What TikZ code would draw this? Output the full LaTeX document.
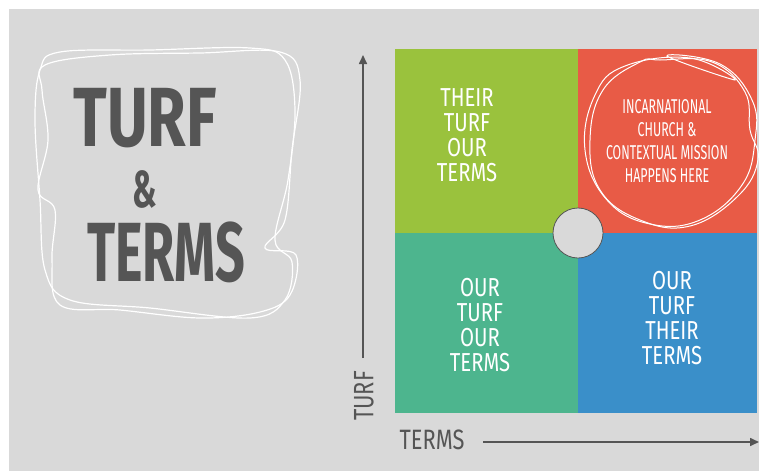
\documentclass[tikz,border=0pt]{standalone}
\usepackage{fontspec}
\usepackage{graphicx}
\usetikzlibrary{arrows.meta}
\newfontfamily\titlefont[FakeStretch=0.62]{Fira Sans}
\newfontfamily\handfont[FakeStretch=0.78]{Fira Sans}
\newfontfamily\notefont[FakeStretch=0.62]{Fira Sans}
\definecolor{bggray}{HTML}{D9D9D9}
\definecolor{inkgray}{HTML}{555555}
\definecolor{turfgreen}{HTML}{9AC23D}
\definecolor{turfred}{HTML}{E85B46}
\definecolor{turfteal}{HTML}{4DB58E}
\definecolor{turfblue}{HTML}{3A8FC9}
\begin{document}
\begin{tikzpicture}[x = 1pt, y = -1pt]
	% Page and background
	\useasboundingbox (0, 0) rectangle (759, 471);
	\fill[white] (0, 0) rectangle (759, 471);
	\fill[bggray] (9, 9) rectangle (759, 471);

	% Styles for the quadrant texts and the sketchy loops
	\tikzset{quad text/.style = {white, align = center, inner sep = 0pt, font = \handfont\fontsize{26}{25}\selectfont},
		note text/.style = {white, align = center, inner sep = 0pt, font = \notefont\fontsize{20}{23}\selectfont},
		sketch/.style = {white, line width = 1.2pt},
		axis arrow/.style = {-{Triangle[length = 9pt, width = 8pt]}, inkgray, line width = 1.6pt}}

	% Define the corners of the grid
	\coordinate (NW) at (395, 49);
	\coordinate (M) at (578, 233);
	\coordinate (SE) at (757, 413);

	% Draw the four quadrants
	\fill[turfgreen] (NW) rectangle (M);
	\fill[turfred] (M |- NW) rectangle (SE |- M);
	\fill[turfteal] (NW |- M) rectangle (M |- SE);
	\fill[turfblue] (M) rectangle (SE);

	% Quadrant labels
	\node[quad text] (their turf) at (467, 135) {THEIR\\TURF\\OUR\\TERMS};
	\node[quad text] (our turf) at (480, 325) {OUR\\TURF\\OUR\\TERMS};
	\node[quad text] (our turf their) at (672, 318) {OUR\\TURF\\THEIR\\TERMS};
	\node[note text] (mission) at (667, 141) {INCARNATIONAL\\CHURCH \&\\CONTEXTUAL MISSION\\HAPPENS HERE};

	% Sketchy circle round the mission text
	\draw[sketch, line width = 1pt] plot[smooth cycle, tension = 0.7] coordinates {(667, 56) (720, 64) (752, 100) (755, 140) (742, 185) (700, 220) (650, 224) (607, 200) (585, 150) (595, 95) (625, 66) (690, 58) (735, 80)};
	\draw[sketch, line width = 1pt] plot[smooth cycle, tension = 0.7] coordinates {(660, 60) (712, 62) (745, 92) (750, 130) (758, 160) (738, 196) (690, 226) (640, 220) (600, 190) (590, 140) (603, 90) (640, 62)};

	% Centre circle
	\node[circle, draw = inkgray, fill = bggray, minimum size = 50pt, inner sep = 0pt, line width = 0.8pt] (hub) at (M) {};

	% Axes
	\coordinate (turf start) at (363, 358);
	\coordinate (turf end) at (363, 55);
	\coordinate (terms start) at (483, 442);
	\coordinate (terms end) at (759, 442);
	\draw[axis arrow] (turf start) -- (turf end);
	\draw[axis arrow] (terms start) -- (terms end);
	\node[inkgray, rotate = 90, font = \handfont\fontsize{28}{28}\selectfont] (turf label) at (364, 396) {TURF};
	\node[inkgray, font = \handfont\fontsize{28}{28}\selectfont] (terms label) at (432, 440) {TERMS};

	% Title with its sketchy frame
	\node[inkgray, inner sep = 0pt, align = center, font = \titlefont\bfseries\fontsize{84}{61}\selectfont] (title) at (145, 186)
		{\scalebox{1.2}[1]{TURF}\\{\fontsize{52}{61}\selectfont\&}\\[13pt]\hspace*{42pt}TERMS};
	\draw[sketch] plot[smooth cycle, tension = 0.6] coordinates {(60, 52) (150, 50) (250, 48) (285, 60) (295, 110) (288, 180) (275, 240) (292, 262) (285, 300) (250, 318) (150, 308) (70, 300) (45, 270) (40, 200) (35, 120) (40, 70)};
	\draw[sketch] plot[smooth cycle, tension = 0.6] coordinates {(45, 65) (110, 55) (200, 53) (280, 52) (300, 80) (292, 150) (285, 220) (265, 248) (296, 255) (290, 295) (260, 312) (200, 318) (120, 310) (60, 305) (52, 260) (55, 210) (38, 190) (48, 140) (42, 90)};
\end{tikzpicture}
\end{document}
